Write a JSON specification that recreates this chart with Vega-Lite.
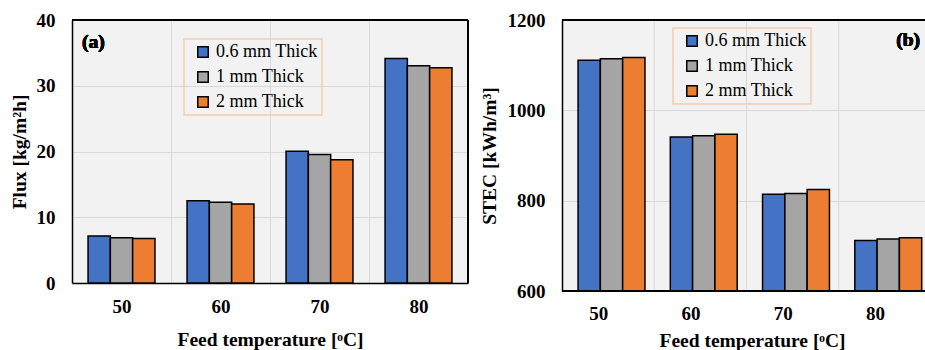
{
  "$schema": "https://vega.github.io/schema/vega-lite/v6.json",
  "padding": {"left": 9, "top": 11, "right": 0, "bottom": 0},
  "spacing": 10,
  "datasets": {
    "main": [
      {"temp": "50", "thick": "0.6 mm Thick", "flux": 7.15, "stec": 1111},
      {"temp": "50", "thick": "1 mm Thick", "flux": 6.9, "stec": 1114},
      {"temp": "50", "thick": "2 mm Thick", "flux": 6.75, "stec": 1117},
      {"temp": "60", "thick": "0.6 mm Thick", "flux": 12.5, "stec": 941},
      {"temp": "60", "thick": "1 mm Thick", "flux": 12.3, "stec": 944},
      {"temp": "60", "thick": "2 mm Thick", "flux": 12.0, "stec": 947},
      {"temp": "70", "thick": "0.6 mm Thick", "flux": 20.05, "stec": 814},
      {"temp": "70", "thick": "1 mm Thick", "flux": 19.55, "stec": 816},
      {"temp": "70", "thick": "2 mm Thick", "flux": 18.75, "stec": 825},
      {"temp": "80", "thick": "0.6 mm Thick", "flux": 34.15, "stec": 712},
      {"temp": "80", "thick": "1 mm Thick", "flux": 33.05, "stec": 715},
      {"temp": "80", "thick": "2 mm Thick", "flux": 32.75, "stec": 718}
    ],
    "bounds": [{"temp": "60"}, {"temp": "70"}, {"temp": "80"}]
  },
  "config": {
    "font": "Liberation Serif",
    "view": {"stroke": null, "fill": "#f2f2f2"},
    "axis": {
      "labelFont": "Liberation Serif",
      "labelFontSize": 19,
      "labelFontWeight": "bold",
      "labelColor": "black",
      "titleFont": "Liberation Serif",
      "titleFontSize": 19.5,
      "titleFontWeight": "bold",
      "titleColor": "black",
      "ticks": false,
      "gridColor": "#d9d9d9",
      "gridWidth": 1,
      "domainColor": "black",
      "domainWidth": 1.5
    },
    "legend": {
      "orient": "none",
      "direction": "vertical",
      "title": null,
      "symbolType": "square",
      "symbolSize": 110,
      "symbolStrokeColor": "black",
      "symbolStrokeWidth": 1.5,
      "symbolOpacity": 1,
      "labelFont": "Liberation Serif",
      "labelFontSize": 18,
      "labelColor": "black",
      "labelOffset": 4,
      "rowPadding": 7,
      "padding": 4,
      "symbolOffset": 6,
      "strokeColor": "#f8cbad",
      "strokeWidth": 1.5
    }
  },
  "resolve": {"legend": {"color": "independent"}},
  "hconcat": [
    {
      "width": 396,
      "height": 263,
      "data": {"name": "main"},
      "layer": [
        {
          "mark": {"type": "bar", "stroke": "black", "strokeWidth": 1.5},
          "encoding": {
            "x": {
              "field": "temp", "type": "nominal",
              "scale": {"paddingInner": 0, "paddingOuter": 0},
              "axis": {"title": "Feed temperature [ᵒC]", "tickBand": "extent", "grid": true, "labelAngle": 0, "labelPadding": 14, "titlePadding": 14}
            },
            "xOffset": {
              "field": "thick", "type": "nominal",
              "sort": ["0.6 mm Thick", "1 mm Thick", "2 mm Thick"],
              "scale": {"paddingInner": 0, "paddingOuter": 0.72}
            },
            "y": {
              "field": "flux", "type": "quantitative",
              "scale": {"domain": [0, 40]},
              "axis": {"title": "Flux [kg/m²h]", "values": [0, 10, 20, 30, 40], "grid": true, "labelPadding": 17, "titlePadding": 7}
            },
            "color": {
              "field": "thick", "type": "nominal",
              "scale": {"domain": ["0.6 mm Thick", "1 mm Thick", "2 mm Thick"], "range": ["#4472c4", "#a5a5a5", "#ed7d31"]},
              "legend": {"legendX": 112, "legendY": 19, "labelExpr": "datum.label + '\u00a0\u00a0'"}
            }
          }
        },
        {
          "mark": {"type": "text", "text": "(a)", "align": "left", "baseline": "middle", "fontWeight": "bold", "fontSize": 19.5, "dx": 10, "color": "black"},
          "encoding": {"x": {"datum": "50", "type": "nominal", "bandPosition": 0}, "y": {"datum": 36.65, "type": "quantitative"}}
        },
        {
          "mark": {"type": "rule", "color": "black", "strokeWidth": 1.5},
          "encoding": {"y": {"datum": 40, "type": "quantitative"}}
        },
        {
          "mark": {"type": "rule", "color": "black", "strokeWidth": 1.5},
          "encoding": {"x": {"datum": "80", "type": "nominal", "bandPosition": 1}}
        }
      ]
    },
    {
      "width": 363,
      "height": 271,
      "layer": [
        {
          "data": {"name": "bounds"},
          "mark": {"type": "rule", "color": "#d9d9d9", "strokeWidth": 1},
          "encoding": {"x": {"field": "temp", "type": "nominal", "bandPosition": 0}}
        },
        {
          "data": {"name": "main"},
          "mark": {"type": "bar", "stroke": "black", "strokeWidth": 1.5, "clip": true},
          "encoding": {
            "x": {
              "field": "temp", "type": "nominal",
              "scale": {"paddingInner": 0, "paddingOuter": 0, "range": [0, 369]},
              "axis": {"title": "Feed temperature [ᵒC]", "titleX": 190, "grid": false, "domain": false, "labelAngle": 0, "labelPadding": 22, "titlePadding": 8}
            },
            "xOffset": {
              "field": "thick", "type": "nominal",
              "sort": ["0.6 mm Thick", "1 mm Thick", "2 mm Thick"],
              "scale": {"paddingInner": 0, "paddingOuter": 0.73}
            },
            "y": {
              "field": "stec", "type": "quantitative",
              "scale": {"domain": [600, 1200]},
              "axis": {"title": "STEC [kWh/m³]", "format": "d", "values": [600, 800, 1000, 1200], "grid": true, "labelPadding": 17, "titlePadding": 8}
            },
            "color": {
              "field": "thick", "type": "nominal",
              "scale": {"domain": ["0.6 mm Thick", "1 mm Thick", "2 mm Thick"], "range": ["#4472c4", "#a5a5a5", "#ed7d31"]},
              "legend": {"legendX": 111, "legendY": 8}
            }
          }
        },
        {
          "data": {"name": "main"},
          "mark": {"type": "text", "text": "(b)", "align": "right", "baseline": "middle", "fontWeight": "bold", "fontSize": 19.5, "dx": -11, "color": "black"},
          "encoding": {"x": {"datum": "80", "type": "nominal", "bandPosition": 1}, "y": {"datum": 1156, "type": "quantitative"}}
        },
        {
          "data": {"name": "main"},
          "mark": {"type": "rule", "color": "black", "strokeWidth": 1.5},
          "encoding": {"y": {"datum": 1200, "type": "quantitative"}}
        },
        {
          "data": {"name": "main"},
          "mark": {"type": "rule", "color": "black", "strokeWidth": 1.5},
          "encoding": {"y": {"datum": 600, "type": "quantitative"}}
        }
      ]
    }
  ]
}
